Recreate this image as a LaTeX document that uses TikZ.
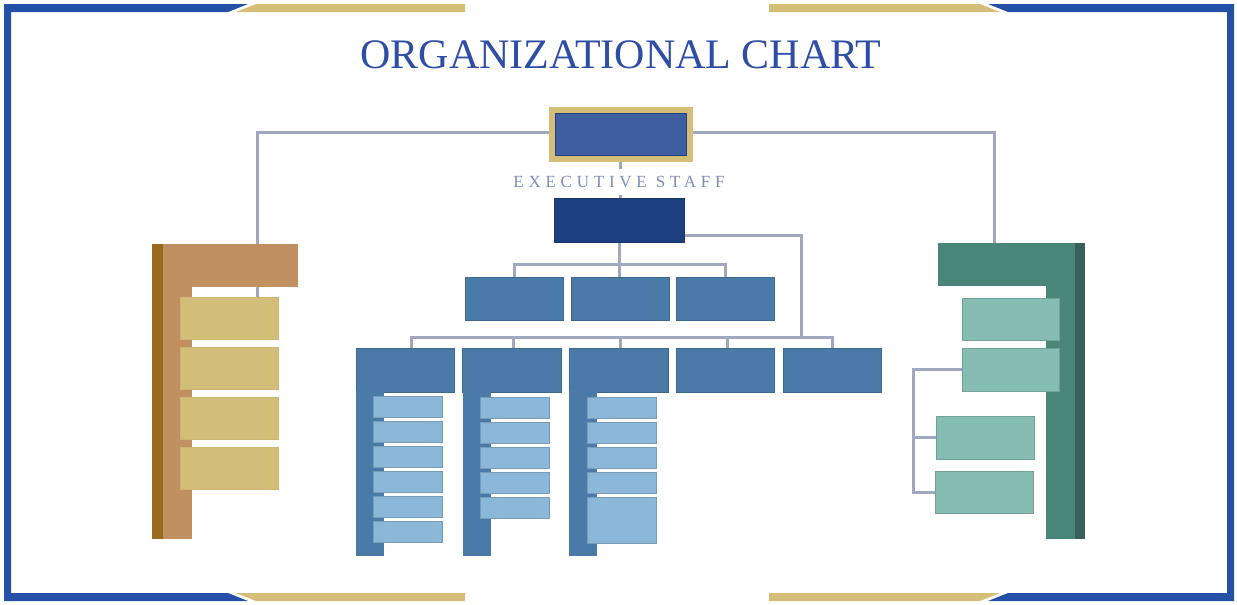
\documentclass[tikz,border=0pt]{standalone}
\usepackage{fontspec}
\setmainfont{Liberation Serif}
\usepackage{xcolor}
\usepackage{tikz}
\usetikzlibrary{backgrounds}
\definecolor{frameblue}{RGB}{36,80,168}
\definecolor{framegold}{RGB}{212,190,120}
\definecolor{titleblue}{RGB}{46,78,166}
\definecolor{staffgray}{RGB}{128,140,184}
\definecolor{linkgray}{RGB}{160,168,192}
\definecolor{ceoblue}{RGB}{63,95,160}
\definecolor{navy}{RGB}{31,64,128}
\definecolor{midblue}{RGB}{74,122,168}
\definecolor{lightblue}{RGB}{139,184,216}
\definecolor{tanmain}{RGB}{192,144,96}
\definecolor{tandark}{RGB}{154,106,28}
\definecolor{goldbox}{RGB}{210,190,120}
\definecolor{tealmain}{RGB}{74,133,122}
\definecolor{tealdark}{RGB}{58,94,90}
\definecolor{teallight}{RGB}{133,189,178}
% a box given by its top left and bottom right corner
\newcommand{\unitbox}[6]{%
  \node[#1, anchor=north west, minimum width={((#5)-(#3))*1pt},
    minimum height={((#6)-(#4))*1pt}] (#2) at (#3,#4) {};}

\begin{document}
\begin{tikzpicture}[x=1pt, y=-1pt, inner sep=0pt, outer sep=0pt,
    link/.style={draw=linkgray, line width=3pt},
    unit/.style={fill=#1, draw=#1!85!black, line width=0.7pt},
    plain/.style={fill=#1, draw=none}]
  \useasboundingbox (0,0) rectangle (1237,605);
  % frame
  \fill[frameblue] (4,4) -- (248,4) -- (228,12) -- (11,12) -- (11,593) --
    (228,593) -- (248,601) -- (4,601) -- cycle;
  \fill[frameblue] (988,4) -- (1234,4) -- (1234,601) -- (988,601) --
    (1008,593) -- (1227,593) -- (1227,12) -- (1008,12) -- cycle;
  \fill[framegold] (256,4) -- (465,4) -- (465,12) -- (236,12) -- cycle;
  \fill[framegold] (236,593) -- (465,593) -- (465,601) -- (256,601) -- cycle;
  \fill[framegold] (769,4) -- (980,4) -- (1000,12) -- (769,12) -- cycle;
  \fill[framegold] (769,593) -- (1000,593) -- (980,601) -- (769,601) -- cycle;

  \node[text=titleblue, font=\fontsize{42}{42}\selectfont] (title) at (621,55)
    {ORGANIZATIONAL CHART};

  % executive staff
  \unitbox{unit=ceoblue, draw=framegold, line width=6pt}{ceo}{552}{110}{689.5}{158.5}
  \draw[navy, line width=0.8pt] ([shift={(3.4pt,-3.4pt)}]ceo.north west)
    rectangle ([shift={(-3.4pt,3.4pt)}]ceo.south east);
  \unitbox{unit=navy}{exec}{554}{198}{684}{242}
  \node[fill=white, inner xsep=2pt, inner ysep=7pt, text=staffgray,
    font={\fontsize{17}{17}\selectfont\addfontfeatures{LetterSpace=28}}]
    (stafflabel) at (619,182) {EXECUTIVE STAFF};

  % middle rows
  \unitbox{unit=midblue}{ra1}{465}{277}{563}{320}
  \unitbox{unit=midblue}{ra2}{571}{277}{669}{320}
  \unitbox{unit=midblue}{ra3}{676}{277}{774}{320}
  \unitbox{unit=midblue}{rb1}{356}{348}{454}{392}
  \unitbox{unit=midblue}{rb2}{462}{348}{561}{392}
  \unitbox{unit=midblue}{rb3}{569}{348}{668}{392}
  \unitbox{unit=midblue}{rb4}{676}{348}{774}{392}
  \unitbox{unit=midblue}{rb5}{783}{348}{881}{392}
  \foreach \x in {356, 463, 569}{
    \fill[midblue] (\x,390) rectangle (\x+28,556);
  }
  \foreach \i in {0,...,5}{
    \unitbox{unit=lightblue}{sa\i}{373}{396+25*\i}{442}{417+25*\i}
  }
  \foreach \i in {0,...,4}{
    \unitbox{unit=lightblue}{sb\i}{480}{397+25*\i}{549}{418+25*\i}
  }
  \foreach \i in {0,...,3}{
    \unitbox{unit=lightblue}{sc\i}{587}{397+25*\i}{656}{418+25*\i}
  }
  \unitbox{unit=lightblue}{sc4}{587}{497}{656}{543}

  % left department
  \fill[tandark] (152,244) rectangle (163,539);
  \fill[tanmain] (163,244) rectangle (192,539);
  \unitbox{plain=tanmain}{lhead}{163}{244}{298}{287}
  \foreach \i in {0,...,3}{
    \unitbox{unit=goldbox, draw=goldbox!80!tanmain}{lb\i}{180}{297+50*\i}{278}{339+50*\i}
  }

  % right department
  \fill[tealdark] (1075,243) rectangle (1085,539);
  \fill[tealmain] (1046,243) rectangle (1075,539);
  \unitbox{plain=tealmain}{rhead}{938}{243}{1075}{286}
  \unitbox{unit=teallight}{t1}{962}{298}{1059}{340}
  \unitbox{unit=teallight}{t2}{962}{348}{1059}{391}
  \unitbox{unit=teallight}{t3}{936}{416}{1034}{459}
  \unitbox{unit=teallight}{t4}{935}{471}{1033}{513}

  \coordinate (ldrop) at (257,297);
  \coordinate (rdrop) at (994,243);
  \coordinate (busb) at (801,337);

  % connectors
  \begin{scope}[on background layer]
    \draw[link] ([yshift=2pt]ceo.west) -| (ldrop);
    \draw[link] ([yshift=2pt]ceo.east) -| (rdrop);
    \draw[link] (ceo.south) -- (ceo.south |- exec.north);
    \draw[link] (exec.south) -- (exec.south |- ra2.north);
    \draw[link] (exec.south) ++(0,22) -| (ra1.north);
    \draw[link] (exec.south) ++(0,22) -| (ra3.north);
    \draw[link] ([yshift=-15pt]exec.east) -| (busb);
    \draw[link] ([xshift=6pt]rb1.north) |- (busb) -| (rb5.north);
    \foreach \k in {2,3,4}{
      \draw[link] ([xshift=2pt]rb\k.north) -- ([xshift=2pt]rb\k.north |- busb);
    }
    \draw[link] (t2.west) -- ++(-49,0) |- (t4.west);
    \draw[link] (t3.west) -- ++(-23,0);
  \end{scope}
\end{tikzpicture}
\end{document}
